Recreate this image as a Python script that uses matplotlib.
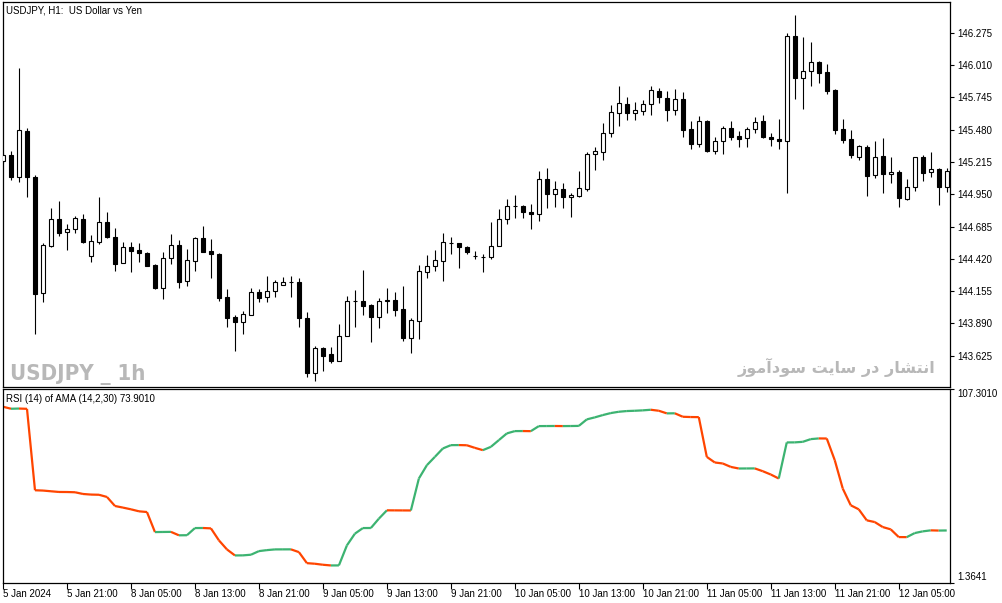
import unicodedata
import numpy as np
import matplotlib
matplotlib.use("Agg")
import matplotlib.pyplot as plt
from matplotlib.collections import LineCollection
from matplotlib import font_manager
from matplotlib.font_manager import FontProperties

# ---------------- data ----------------
opens = [145.223, 145.272, 145.092, 145.469, 145.092, 144.140, 144.526, 144.747, 144.641, 144.665,
         144.747, 144.444, 144.559, 144.723, 144.600, 144.386, 144.518, 144.493, 144.468, 144.370,
         144.181, 144.427, 144.534, 144.239, 144.403, 144.591, 144.485, 144.460, 144.108, 143.944,
         143.903, 143.960, 144.149, 144.108, 144.157, 144.206, 144.231, 144.231, 143.935, 143.484,
         143.689, 143.640, 143.583, 143.788, 144.075, 144.075, 144.042, 143.944, 144.075, 144.083,
         144.009, 143.771, 143.911, 144.313, 144.362, 144.403, 144.550, 144.550, 144.518, 144.444,
         144.436, 144.436, 144.526, 144.747, 144.854, 144.854, 144.805, 144.788, 145.075, 144.952,
         144.993, 144.928, 144.936, 144.993, 145.280, 145.297, 145.452, 145.616, 145.690, 145.616,
         145.633, 145.690, 145.797, 145.739, 145.641, 145.731, 145.485, 145.362, 145.551, 145.305,
         145.387, 145.493, 145.428, 145.411, 145.485, 145.551, 145.420, 145.403, 145.387, 146.248,
         145.903, 145.961, 146.035, 145.953, 145.805, 145.485, 145.403, 145.256, 145.338, 145.108,
         145.264, 145.116, 145.133, 144.911, 145.010, 145.256, 145.133, 145.157, 145.010]
highs = [145.288, 145.305, 145.985, 145.493, 145.108, 144.550, 144.837, 144.895, 144.706, 144.772,
         144.788, 144.616, 144.928, 144.805, 144.673, 144.559, 144.559, 144.550, 144.477, 144.378,
         144.477, 144.624, 144.575, 144.501, 144.600, 144.690, 144.583, 144.468, 144.173, 143.960,
         143.993, 144.181, 144.173, 144.280, 144.247, 144.272, 144.280, 144.263, 143.985, 143.706,
         143.698, 143.698, 143.886, 144.116, 144.165, 144.329, 144.050, 144.099, 144.181, 144.149,
         144.198, 143.935, 144.370, 144.452, 144.493, 144.632, 144.600, 144.550, 144.526, 144.485,
         144.460, 144.723, 144.829, 144.911, 144.944, 144.862, 144.870, 145.141, 145.165, 145.059,
         145.042, 144.960, 145.141, 145.297, 145.338, 145.534, 145.682, 145.838, 145.748, 145.707,
         145.723, 145.838, 145.821, 145.797, 145.813, 145.789, 145.551, 145.592, 145.559, 145.420,
         145.510, 145.551, 145.469, 145.502, 145.584, 145.600, 145.452, 145.567, 146.272, 146.420,
         146.240, 146.199, 146.043, 146.018, 145.813, 145.567, 145.477, 145.354, 145.354, 145.387,
         145.411, 145.256, 145.149, 145.075, 145.256, 145.272, 145.297, 145.165, 145.165]
lows = [145.206, 145.067, 145.051, 144.928, 143.804, 144.067, 144.518, 144.608, 144.493, 144.632,
        144.550, 144.395, 144.542, 144.591, 144.321, 144.386, 144.313, 144.395, 144.362, 144.173,
        144.091, 144.378, 144.181, 144.198, 144.321, 144.477, 144.263, 144.075, 143.862, 143.665,
        143.804, 143.960, 144.067, 144.067, 144.108, 144.206, 144.108, 143.862, 143.452, 143.419,
        143.501, 143.567, 143.583, 143.788, 143.862, 143.960, 143.739, 143.853, 143.976, 143.952,
        143.747, 143.649, 143.763, 144.263, 144.321, 144.239, 144.460, 144.345, 144.460, 144.419,
        144.313, 144.419, 144.526, 144.706, 144.755, 144.755, 144.665, 144.731, 144.837, 144.846,
        144.837, 144.764, 144.928, 144.977, 145.149, 145.231, 145.420, 145.510, 145.559, 145.559,
        145.600, 145.600, 145.698, 145.551, 145.600, 145.420, 145.321, 145.338, 145.297, 145.280,
        145.280, 145.395, 145.338, 145.338, 145.452, 145.411, 145.346, 145.321, 144.960, 145.731,
        145.649, 145.838, 145.862, 145.772, 145.444, 145.370, 145.247, 145.231, 144.936, 145.083,
        144.960, 145.042, 144.846, 144.903, 144.977, 145.059, 145.092, 144.862, 144.969]
closes = [145.272, 145.092, 145.477, 145.092, 144.132, 144.534, 144.747, 144.632, 144.665, 144.755,
          144.559, 144.567, 144.723, 144.600, 144.378, 144.518, 144.485, 144.468, 144.362, 144.181,
          144.427, 144.534, 144.231, 144.411, 144.591, 144.477, 144.460, 144.099, 143.935, 143.903,
          143.968, 144.149, 144.099, 144.157, 144.231, 144.231, 144.230, 143.935, 143.484, 143.689,
          143.624, 143.583, 143.788, 144.075, 144.074, 144.034, 143.944, 144.075, 144.083, 144.001,
          143.771, 143.919, 144.321, 144.362, 144.411, 144.559, 144.549, 144.518, 144.477, 144.443,
          144.435, 144.526, 144.747, 144.854, 144.853, 144.805, 144.788, 145.075, 144.952, 144.993,
          144.928, 144.944, 145.001, 145.280, 145.305, 145.452, 145.625, 145.698, 145.616, 145.641,
          145.690, 145.805, 145.748, 145.641, 145.731, 145.477, 145.362, 145.551, 145.305, 145.387,
          145.493, 145.420, 145.403, 145.485, 145.543, 145.420, 145.403, 145.387, 146.248, 145.903,
          145.961, 146.035, 145.944, 145.797, 145.477, 145.395, 145.272, 145.346, 145.100, 145.256,
          145.116, 145.133, 144.919, 145.010, 145.256, 145.124, 145.157, 145.010, 145.141]

rsi_ama = [97.59, 96.49, 96.60, 96.45, 51.86, 51.70, 51.31, 50.93, 50.90, 50.77,
           49.83, 49.50, 49.40, 48.19, 43.25, 42.37, 41.43, 40.34, 39.95, 28.97,
           29.03, 29.08, 27.20, 27.25, 31.17, 31.20, 31.00, 24.42, 19.48, 16.18,
           16.22, 16.57, 18.55, 19.09, 19.48, 19.50, 19.52, 18.00, 11.96, 11.63,
           11.08, 10.70, 10.72, 21.67, 28.10, 31.17, 31.20, 36.33, 40.88, 40.85,
           40.82, 40.80, 58.29, 65.59, 70.14, 74.75, 76.56, 76.60, 76.50, 75.08,
           73.82, 75.63, 79.31, 82.99, 84.25, 84.28, 84.22, 86.99, 87.02, 87.05,
           87.00, 87.03, 87.10, 90.67, 91.77, 93.03, 94.13, 94.84, 95.23, 95.39,
           95.61, 95.94, 95.39, 93.96, 94.00, 92.10, 91.95, 91.90, 70.14, 67.07,
           66.52, 64.65, 63.77, 63.80, 63.83, 62.29, 60.48, 58.29, 78.05, 78.08,
           78.38, 79.86, 80.24, 80.20, 68.33, 52.80, 43.63, 41.43, 35.40, 34.46,
           31.72, 30.46, 26.23, 26.20, 28.43, 29.36, 29.91, 29.80, 29.85]

price_ticks = [146.275, 146.010, 145.745, 145.480, 145.215, 144.950,
               144.685, 144.420, 144.155, 143.890, 143.625]
price_labels = ["146.275", "146.010", "145.745", "145.480", "145.215", "144.950",
                "144.685", "144.420", "144.155", "143.890", "143.625"]
price_range = [143.369, 146.527]
rsi_ticks = [1.3641, 107.3010]
rsi_labels = ["1.3641", "107.3010"]

time_tick_bars = [0, 8, 16, 24, 32, 40, 48, 56, 64, 72, 80, 88, 96, 104, 112]
time_labels = ["5 Jan 2024", "5 Jan 21:00", "8 Jan 05:00", "8 Jan 13:00", "8 Jan 21:00",
               "9 Jan 05:00", "9 Jan 13:00", "9 Jan 21:00", "10 Jan 05:00", "10 Jan 13:00",
               "10 Jan 21:00", "11 Jan 05:00", "11 Jan 13:00", "11 Jan 21:00", "12 Jan 05:00"]

title_text = "USDJPY, H1:  US Dollar vs Yen"
indicator_text = "RSI (14) of AMA (14,2,30) 73.9010"
watermark_text = "USDJPY _ 1h"
persian_text = "انتشار در سایت سودآموز"


# ------------- simple Arabic-script shaping (matplotlib has no shaper) -------------
def shape_arabic(s):
    s = unicodedata.normalize("NFC", s)
    forms = {
        "\u0627": (0xFE8D, 0xFE8E, None, None),
        "\u0622": (0xFE81, 0xFE82, None, None),
        "\u0646": (0xFEE5, 0xFEE6, 0xFEE7, 0xFEE8),
        "\u062A": (0xFE95, 0xFE96, 0xFE97, 0xFE98),
        "\u0634": (0xFEB5, 0xFEB6, 0xFEB7, 0xFEB8),
        "\u0631": (0xFEAD, 0xFEAE, None, None),
        "\u062F": (0xFEA9, 0xFEAA, None, None),
        "\u0633": (0xFEB1, 0xFEB2, 0xFEB3, 0xFEB4),
        "\u06CC": (0xFEEF, 0xFEF0, 0xFEF3, 0xFEF4),
        "\u064A": (0xFEF1, 0xFEF2, 0xFEF3, 0xFEF4),
        "\u0648": (0xFEED, 0xFEEE, None, None),
        "\u0645": (0xFEE1, 0xFEE2, 0xFEE3, 0xFEE4),
        "\u0632": (0xFEAF, 0xFEB0, None, None),
    }
    out = []
    for i, ch in enumerate(s):
        if ch not in forms:
            out.append(ch)
            continue
        prev = s[i - 1] if i > 0 else ""
        nxt = s[i + 1] if i + 1 < len(s) else ""
        jp = prev in forms and forms[prev][2] is not None
        jn = nxt in forms and forms[ch][2] is not None
        iso, fin, ini, med = forms[ch]
        g = med if (jp and jn) else fin if jp else ini if jn else iso
        out.append(chr(g))
    return "".join(reversed(out))


def condensed_bold_font():
    cands = [f for f in font_manager.fontManager.ttflist
             if str(f.stretch) in ("condensed", "semi-condensed", "extra-condensed", "ultra-condensed")
             or "Narrow" in f.name or "Condensed" in f.name]
    bold = [f for f in cands if (f.weight if isinstance(f.weight, int) else 700 if "bold" in str(f.weight) else 400) >= 600]
    pick = bold or cands
    if pick:
        return FontProperties(fname=pick[0].fname)
    return FontProperties(family="Liberation Sans", weight="bold")


# ---------------- figure ----------------
W, H = 1003, 603
fig = plt.figure(figsize=(W / 100, H / 100), dpi=100, facecolor="white")
ax1 = fig.add_axes([3 / W, 1 - 387 / H, 947 / W, 385 / H])
ax2 = fig.add_axes([3 / W, 1 - 582.5 / H, 947 / W, 193.5 / H], sharex=ax1)

lab_font = "Liberation Sans"
o = np.array(opens); c = np.array(closes); h = np.array(highs); l = np.array(lows)
xs = np.arange(len(o))

ax1.vlines(xs, l, h, color="black", linewidth=0.8, zorder=2)
bull = c >= o
ax1.bar(xs, np.abs(c - o), bottom=np.minimum(o, c), width=0.5,
        color=np.where(bull, "white", "black"), edgecolor="black",
        linewidth=0.8, zorder=3)

ax1.set_xlim(0.04, 118.41)
ax1.set_ylim(*price_range)
ax1.yaxis.tick_right()
ax1.set_yticks(price_ticks)
ax1.set_yticklabels(price_labels, fontfamily=lab_font)
ax1.tick_params(axis="y", direction="out", length=3, width=0.8, pad=2, labelsize=7)
ax1.tick_params(axis="x", bottom=False, labelbottom=False)
for sp in ax1.spines.values():
    sp.set_linewidth(0.9)

ax1.text(3 / 947, 0.979, title_text, transform=ax1.transAxes, fontsize=7,
         fontfamily=lab_font, va="center", ha="left")

wm_prop = condensed_bold_font()
wm = ax1.text(7 / 947, 7 / 385, watermark_text, transform=ax1.transAxes,
              fontproperties=wm_prop, fontsize=18,
              color="#b8b8b8", va="baseline", ha="left", zorder=1)
fa = ax1.text(932 / 947, 14 / 385, shape_arabic(persian_text), transform=ax1.transAxes,
              fontsize=12, fontfamily="DejaVu Sans", fontweight="bold",
              color="#b8b8b8", va="baseline", ha="right", zorder=1)

# fit watermark widths to the reference (135 px and 197 px)
fig.canvas.draw()
r = fig.canvas.get_renderer()
wm.set_fontsize(18 * 135.0 / wm.get_window_extent(r).width)
fa.set_fontsize(12 * 197.0 / fa.get_window_extent(r).width)

# ---------------- indicator ----------------
v = np.array(rsi_ama)
pts = np.column_stack([xs, v])
segs = np.stack([pts[:-1], pts[1:]], axis=1)
cols = np.where(np.diff(v) >= 0, "#3CB371", "#FF4500")
ax2.add_collection(LineCollection(segs, colors=cols, linewidths=1.6, capstyle="butt"))
ax2.set_ylim(rsi_ticks[0], rsi_ticks[1])
ax2.yaxis.tick_right()
ax2.set_yticks(rsi_ticks)
ax2.set_yticklabels(rsi_labels, fontfamily=lab_font)
ax2.tick_params(axis="y", direction="out", length=3, width=0.8, pad=2, labelsize=7)
ylabs = ax2.get_yticklabels()
ylabs[0].set_va("bottom")
ylabs[1].set_va("top")

ax2.set_xticks(time_tick_bars)
ax2.set_xticklabels(time_labels, fontfamily=lab_font)
ax2.tick_params(axis="x", direction="out", length=4, width=0.8, pad=1, labelsize=7)
for lbl in ax2.get_xticklabels():
    lbl.set_ha("left")
for sp in ax2.spines.values():
    sp.set_linewidth(0.9)

ax2.text(3 / 947, 0.948, indicator_text, transform=ax2.transAxes, fontsize=7,
         fontfamily=lab_font, va="center", ha="left")

fig.savefig("out.png", dpi=100, facecolor="white")
